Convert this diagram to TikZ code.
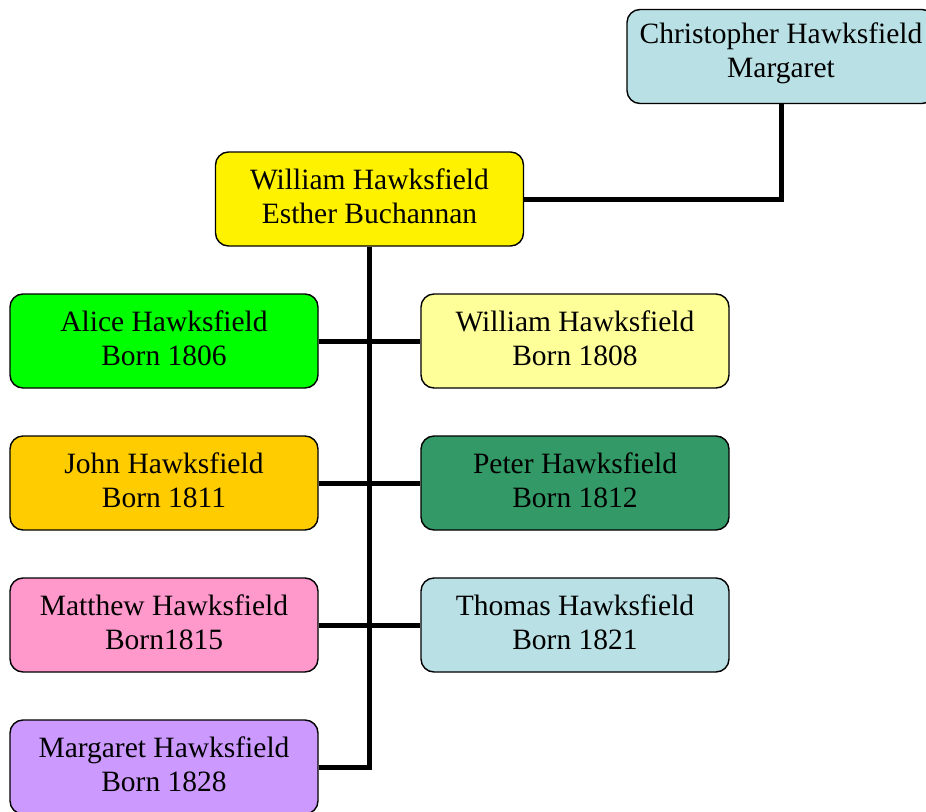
\documentclass[tikz,border=0pt]{standalone}
\usepackage{fontspec}
\setmainfont{Liberation Serif}
\begin{document}
\begin{tikzpicture}[x=1pt,y=-1pt,
  person/.style={draw=black, line width=1.4pt, rounded corners=13pt,
    minimum width=308pt, minimum height=94pt, inner sep=0pt},
  namebox/.style={font=\fontsize{29.5}{34}\selectfont, align=center, inner sep=0pt},
  link/.style={line width=5pt, draw=black}]
\definecolor{paleblue}{RGB}{185,224,228}
\definecolor{paleyellow}{RGB}{255,255,153}
\definecolor{amber}{RGB}{255,204,0}
\definecolor{seagreen}{RGB}{51,153,102}
\definecolor{pink}{RGB}{255,153,204}
\definecolor{lavender}{RGB}{204,153,255}
\useasboundingbox (0,0) rectangle (926,811);

% generations
\node[person, fill=paleblue] (chris) at (781,56.5) {};
\node[person, fill=yellow] (william) at (369.5,199) {};

% children
\node[person, fill=green] (alice) at (164,341) {};
\node[person, fill=paleyellow] (williamjr) at (575,341) {};
\node[person, fill=amber] (john) at (164,483) {};
\node[person, fill=seagreen] (peter) at (575,483) {};
\node[person, fill=pink] (matthew) at (164,625) {};
\node[person, fill=paleblue] (thomas) at (575,625) {};
\node[person, fill=lavender] (margaret) at (164,767) {};

% names, set a little above the box centres
\node[namebox] (christ) at ([yshift=3pt]chris.center) {Christopher Hawksfield\\Margaret};
\node[namebox] (williamt) at ([yshift=3pt]william.center) {William Hawksfield\\Esther Buchannan};
\node[namebox] (alicet) at ([yshift=3pt]alice.center) {Alice Hawksfield\\Born 1806};
\node[namebox] (williamjrt) at ([yshift=3pt]williamjr.center) {William Hawksfield\\Born 1808};
\node[namebox] (johnt) at ([yshift=3pt]john.center) {John Hawksfield\\Born 1811};
\node[namebox] (petert) at ([yshift=3pt]peter.center) {Peter Hawksfield\\Born 1812};
\node[namebox] (matthewt) at ([yshift=3pt]matthew.center) {Matthew Hawksfield\\Born1815};
\node[namebox] (thomast) at ([yshift=3pt]thomas.center) {Thomas Hawksfield\\Born 1821};
\node[namebox] (margarett) at ([yshift=3pt]margaret.center) {Margaret Hawksfield\\Born 1828};

% lines of descent
\coordinate (trunkend) at (william.south |- margaret.east);
\draw[link] (chris.south) |- (william.east);
\draw[link] (william.south) -- (trunkend) -- (margaret.east);
\draw[link] (alice.east) -- (williamjr.west);
\draw[link] (john.east) -- (peter.west);
\draw[link] (matthew.east) -- (thomas.west);
\end{tikzpicture}
\end{document}
